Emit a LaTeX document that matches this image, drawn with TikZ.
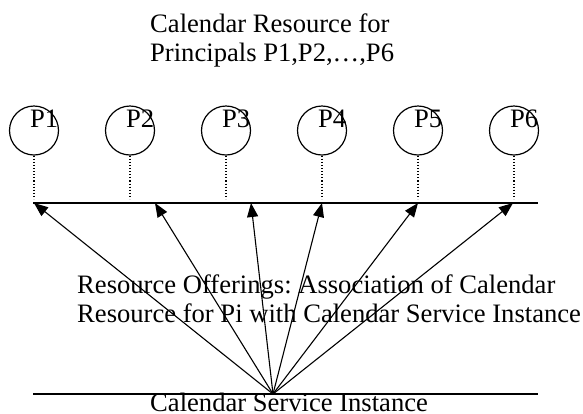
\documentclass[tikz,border=0pt]{standalone}
\usepackage{fontspec}
\setmainfont{Liberation Serif}
\usetikzlibrary{arrows.meta}
\frenchspacing
\begin{document}
\begin{tikzpicture}[x=1pt,y=-1pt,
  txt/.style={anchor=base west,inner sep=0pt,font=\fontsize{26.6}{29}\selectfont},
  pcirc/.style={draw,circle,line width=1.2pt,minimum width=49pt,inner sep=0pt},
  plab/.style={anchor=base west,inner sep=0pt,font=\fontsize{26.6}{29}\selectfont},
  dots/.style={dotted,line width=1.1pt},
  bar/.style={line width=1.6pt},
  assoc/.style={line width=1.1pt,-{Triangle[length=14pt,width=11pt]}}]
\useasboundingbox (0,0) rectangle (583,413);
% title
\node[txt] (t1) at (150,32) {Calendar Resource for};
\node[txt] (t2) at (150,61) {Principals P1,P2,…,P6};
% circles
\foreach \i/\x in {1/34,2/130,3/226,4/322,5/418,6/514}{
  \node[pcirc] (p\i) at (\x,130.5) {};
  \node[plab] (l\i) at (\x-4,127) {P\i};
  \coordinate (d\i) at (\x,199);
  \draw[dots] (p\i.south) -- (d\i);
}
% lines
\coordinate (la) at (33,203);
\coordinate (lb) at (538,203);
\coordinate (ba) at (33,394);
\coordinate (bb) at (538,394);
\draw[bar] (la) -- (lb);
\draw[bar] (ba) -- (bb);
% arrows
\coordinate (s) at (273,394);
\foreach \i/\x in {1/34,2/155,3/251,4/322,5/418,6/513}{
  \coordinate (a\i) at (\x,203);
  \draw[assoc] (s) -- (a\i);
}
% middle text
\node[txt] (m1) at (77,293) {Resource Offerings: Association of Calendar};
\node[txt] (m2) at (77,322) {Resource for Pi with Calendar Service Instance};
% bottom text
\node[txt] (b1) at (150,411) {Calendar Service Instance};
\end{tikzpicture}
\end{document}
